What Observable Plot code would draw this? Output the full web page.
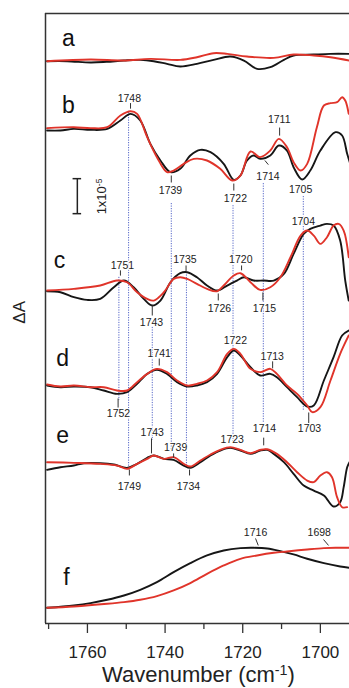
<!DOCTYPE html>
<html><head><meta charset="utf-8">
<script src="https://cdn.jsdelivr.net/npm/d3@7"></script>
<script src="https://cdn.jsdelivr.net/npm/@observablehq/plot@0.6"></script>
<style>body{margin:0;background:#fff}#chart svg{display:block}</style>
</head><body><div id="chart"></div>
<script>
// ---- data: [wavenumber (cm-1), dA (x1e-6, relative to panel baseline)] ----
const aBlack = [[1770.4,0],[1765.2,0],[1759.2,-0.38],[1755.1,-0.19],[1750.6,0.19],[1746.4,0.38],[1742.9,0],[1739.5,-0.76],[1736.1,-1.52],[1731.8,-0.76],[1727.5,0.38],[1723.2,1.33],[1719.7,0.19],[1716.3,-2.19],[1712.9,-1.71],[1709.4,0.38],[1706.9,1.62],[1701.7,1.9],[1697.4,2.1],[1692.5,2.1]];
const aRed = [[1770.4,0],[1759.2,0.48],[1750.6,0.19],[1743.8,0.67],[1736.1,0.38],[1731.8,1.14],[1727.5,2.29],[1724.0,2.1],[1718.9,1.33],[1712.0,0.95],[1706.9,1.9],[1701.7,1.62],[1697.4,1.14],[1692.5,0.19]];
const bBlack = [[1770.4,-0.57],[1766.95,-0.57],[1763.5,-0.1],[1759.2,-0.38],[1754.9,-0.1],[1751.5,2.29],[1748.9,4.19],[1746.4,2.29],[1743.8,-4.38],[1741.2,-9.14],[1738.6,-12.48],[1736.1,-11.52],[1733.5,-7.71],[1730.9,-6.1],[1728.3,-6.76],[1724.9,-10.1],[1722.3,-14.67],[1720.6,-13.43],[1718.9,-9.14],[1717.2,-7.71],[1715.5,-8.67],[1712.9,-7.71],[1710.7,-4.86],[1708.6,-6.29],[1706.9,-11.05],[1704.7,-14.57],[1702.6,-12.0],[1700.0,-6.29],[1696.1,-1.05],[1694.4,-2.0],[1693.1,-7.24],[1692.3,-10.1]];
const bRed = [[1770.4,0.1],[1763.5,0.38],[1759.2,0.1],[1754.9,0.38],[1751.5,3.71],[1748.9,4.95],[1747.2,4.19],[1744.6,-2.48],[1742.1,-8.19],[1739.5,-12.48],[1737.8,-12.0],[1735.2,-10.1],[1732.6,-8.67],[1729.2,-9.14],[1725.8,-11.52],[1722.7,-14.86],[1720.6,-13.43],[1718.0,-6.57],[1715.5,-8.19],[1712.9,-6.29],[1710.7,-2.95],[1708.6,-5.33],[1706.9,-9.62],[1705.1,-12.0],[1703.4,-10.1],[1700.9,0.38],[1699.1,6.57],[1697.4,7.24],[1695.7,7.52],[1694.4,8.95],[1693.6,8.0],[1692.7,4.19]];
const cBlack = [[1770.4,0],[1766.95,-0.29],[1763.5,-1.71],[1760.1,-2.48],[1756.7,-2.19],[1753.2,1.14],[1750.6,3.05],[1748.1,1.14],[1745.5,-2.19],[1743.3,-4.1],[1741.2,-2.67],[1738.6,2.57],[1736.1,5.14],[1734.3,5.43],[1731.8,4.0],[1729.2,1.62],[1726.6,0.19],[1724.0,1.62],[1721.5,3.05],[1719.7,4.0],[1717.2,3.05],[1714.6,3.05],[1712.0,3.05],[1709.4,4.95],[1706.9,10.67],[1704.3,16.38],[1702.6,17.81],[1700.0,18.76],[1698.3,19.24],[1696.6,18.76],[1694.9,14.48],[1693.6,3.05],[1692.7,-2.67]];
const cRed = [[1770.4,0.19],[1763.5,0.67],[1756.7,1.62],[1752.4,3.05],[1749.8,2.57],[1747.2,-0.29],[1744.6,-2.19],[1742.9,-2.67],[1740.3,-0.29],[1737.8,3.52],[1736.1,4.0],[1734.3,3.52],[1731.8,2.1],[1729.2,0.67],[1726.6,0],[1724.9,1.62],[1722.3,4.48],[1720.6,5.14],[1718.0,2.57],[1715.5,0.38],[1712.9,1.14],[1710.3,4.0],[1707.7,9.71],[1705.1,15.9],[1703.4,17.33],[1701.7,15.9],[1700.0,13.52],[1698.3,15.43],[1696.6,18.76],[1695.3,19.24],[1694.0,17.33],[1692.7,9.71]];
const dBlack = [[1770.4,0],[1766.95,-0.48],[1763.5,-0.29],[1759.2,-0.48],[1755.8,-1.43],[1752.4,-2.38],[1749.8,-1.9],[1747.2,0.48],[1744.6,3.33],[1742.1,4.48],[1739.5,3.33],[1736.9,0.95],[1734.3,-0.29],[1731.8,0],[1729.2,0.95],[1726.6,3.33],[1724.0,8.1],[1722.3,10.0],[1720.6,8.57],[1718.0,5.24],[1715.5,2.86],[1712.9,3.33],[1711.2,2.38],[1708.6,-0.48],[1706.0,-3.33],[1703.4,-6.0],[1701.7,-5.71],[1699.1,1.43],[1696.6,8.1],[1694.4,14.29],[1692.7,15.71]];
const dRed = [[1770.4,0.29],[1766.95,-0.29],[1763.5,0],[1759.2,-0.48],[1755.8,-0.48],[1752.4,-1.43],[1749.8,-1.43],[1747.2,0.95],[1744.6,3.33],[1742.1,4.76],[1739.5,3.81],[1736.9,1.43],[1734.3,0],[1731.8,0.48],[1729.2,1.43],[1726.6,3.81],[1724.0,9.05],[1722.3,10.48],[1720.6,9.05],[1718.0,4.76],[1715.5,3.81],[1712.9,4.76],[1711.2,3.33],[1708.6,0],[1706.0,-2.38],[1703.4,-5.71],[1702.1,-7.62],[1700.0,-6.19],[1697.4,1.43],[1694.9,9.05],[1692.7,14.29]];
const eBlack = [[1770.4,-2.19],[1766.95,-1.43],[1763.5,-0.95],[1760.9,-0.29],[1756.7,-0.29],[1753.2,-0.67],[1749.8,-1.62],[1747.2,-0.48],[1744.6,1.24],[1742.9,1.9],[1740.3,0.95],[1737.8,0.67],[1735.2,-0.95],[1733.5,-1.62],[1730.9,0],[1728.3,1.9],[1725.8,3.33],[1723.2,4.1],[1720.6,3.33],[1718.0,2.38],[1715.5,3.33],[1713.7,3.52],[1712.0,2.38],[1709.4,0],[1706.9,-3.33],[1704.3,-6.67],[1701.7,-8.1],[1699.1,-9.52],[1696.6,-12.67],[1694.9,-11.43],[1694.0,-7.14],[1693.1,-1.43],[1692.5,0]];
const eRed = [[1770.4,0],[1763.5,-0.19],[1756.7,-0.48],[1752.4,-0.95],[1749.8,-1.9],[1747.2,-0.48],[1744.6,0.95],[1742.9,1.9],[1740.3,0.95],[1737.8,1.43],[1735.2,-0.48],[1733.5,-1.24],[1730.9,0.48],[1728.3,2.19],[1725.8,3.52],[1723.2,4.29],[1720.6,3.52],[1718.0,2.57],[1715.5,3.52],[1713.7,3.71],[1711.2,2.38],[1708.6,0],[1706.0,-2.86],[1703.4,-5.24],[1701.7,-5.71],[1700.0,-3.81],[1698.3,-2.86],[1697.0,-4.29],[1695.7,-10.0],[1694.4,-12.86],[1693.1,-12.86]];
const fBlack = [[1770.4,0],[1763.5,0.67],[1759.2,1.33],[1754.9,2.29],[1750.6,3.52],[1746.4,5.14],[1742.1,7.33],[1737.8,10.19],[1733.5,12.76],[1729.2,14.95],[1724.9,16.38],[1720.6,17.05],[1717.2,17.14],[1713.7,16.95],[1710.3,16.19],[1706.9,15.24],[1703.4,14.0],[1699.1,12.76],[1694.9,11.81],[1692.5,11.43]];
const fRed = [[1770.4,0],[1763.5,0.38],[1754.9,1.14],[1750.6,1.62],[1746.4,2.29],[1742.1,3.33],[1737.8,4.95],[1733.5,7.05],[1729.2,9.71],[1724.9,12.1],[1720.6,14.0],[1716.3,14.95],[1712.0,15.71],[1708.6,16.1],[1703.4,16.67],[1699.1,17.05],[1695.7,17.14],[1692.5,17.14]];

const panelNames = ["a","b","c","d","e","f"];
const majorTicks = [1760,1740,1720,1700];
const minorTicks = [1770,1750,1730,1710];
// peak annotations: label text, [label x, label y], tick segment [x1,y1,x2,y2] (null = none)
const peakText = ["1748","1739","1722","1714","1711","1705","1704","1751","1735","1720","1743","1726","1715","1722","1741","1713","1752","1703","1743","1739","1723","1714","1749","1734","1716","1698"];
const peakAt = [[1749.2,150.1],[1738.6,123.6],[1721.9,121.3],[1713.5,127.6],[1710.6,144.0],[1705.1,123.9],[1704.4,114.7],[1751.0,102.3],[1734.9,104.0],[1720.5,103.9],[1743.5,86.1],[1726.0,89.9],[1714.4,90.0],[1721.9,80.9],[1741.5,77.1],[1712.4,76.3],[1752.0,60.0],[1702.8,55.7],[1743.3,54.6],[1737.3,50.3],[1722.7,52.6],[1714.4,55.7],[1749.2,39.1],[1734.0,39.1],[1716.7,26.0],[1700.3,26.0]];
const peakTick = [[1748.9,148.7,1748.9,147.1],[1738.4,128.0,1738.4,126.0],[1722.3,125.7,1722.3,123.7],[1714.3,132.3,1713.4,131.1],[1710.5,141.7,1710.5,139.4],null,null,[1751.5,100.9,1751.5,99.4],[1734.6,102.3,1734.6,100.6],[1720.3,102.3,1720.3,100.9],[1743.3,90.9,1743.3,88.0],[1726.3,94.3,1726.3,92.3],[1714.8,94.6,1714.8,92.3],null,[1741.5,75.7,1741.5,73.7],[1712.3,74.9,1712.3,72.9],[1752.1,64.3,1752.1,61.7],[1703.0,60.3,1703.0,56.9],[1743.5,52.9,1743.5,48.6],[1737.8,48.6,1737.8,47.4],null,[1714.6,53.1,1714.6,50.9],[1749.2,44.0,1749.2,42.3],[1733.7,44.0,1733.7,42.3],[1716.7,24.3,1716.0,22.3],[1699.2,24.0,1697.9,22.3]];
// dotted guide lines: wavenumber, from, to
const guideX = [1749.4,1751.9,1738.4,1743.3,1734.5,1722.5,1714.7,1704.4];
const guideFrom = [146.0,98.9,120.0,84.6,100.3,119.4,125.7,122.0];
const guideTo = [44.3,63.7,48.9,52.3,44.6,51.4,56.3,60.9];

// ---- layout ----
const RED = "#e0342a", BLACK = "#161616";
const XD = [1770.8, 1692.5], YTOP = 174.29;
const offsets = {a:160.66, b:141.43, c:94.94, d:68.0, e:46.09, f:4.49};
const letterPos = {a:[1764.9,167.0], b:[1764.9,148.1], c:[1767.2,103.8], d:[1766.4,75.8], e:[1766.4,53.8], f:[1765.4,12.97]};
const series = [["a","k",aBlack],["a","r",aRed],["b","k",bBlack],["b","r",bRed],["c","k",cBlack],["c","r",cRed],["d","k",dBlack],["d","r",dRed],["e","k",eBlack],["e","r",eRed],["f","k",fBlack],["f","r",fRed]];
const rows = series.flatMap(([p,c,arr]) => arr.map(([w,v]) => ({key:p+c, c, w, y: offsets[p] + v})));
const labels = peakText.map((t,i) => ({t, x: peakAt[i][0], y: peakAt[i][1]}));
const ticks = peakTick.filter(d => d).map(([x1,y1,x2,y2]) => ({x1,y1,x2,y2}));
const guides = guideX.map((x,i) => ({x, y1: guideFrom[i], y2: guideTo[i]}));
const letters = panelNames.map(p => ({t:p, x: letterPos[p][0], y: letterPos[p][1]}));
const FONT = "'Liberation Sans', Arial, Helvetica, sans-serif";

const chart = Plot.plot({
  width: 349, height: 688,
  marginTop: 13, marginBottom: 65, marginLeft: 45, marginRight: 0,
  style: {fontFamily: FONT, background: "#fff"},
  x: {domain: XD},
  y: {domain: [0, YTOP], axis: null},
  marks: [
    Plot.ruleX(guides, {x: "x", y1: "y1", y2: "y2", stroke: "#5566c8", strokeWidth: 1, strokeDasharray: "1.2,1.3"}),
    Plot.line(rows.filter(d => d.c === "k"), {x: "w", y: "y", z: "key", stroke: BLACK, strokeWidth: 1.9, curve: "catmull-rom", clip: true}),
    Plot.line(rows.filter(d => d.c === "r"), {x: "w", y: "y", z: "key", stroke: RED, strokeWidth: 1.9, curve: "catmull-rom", clip: true}),
    Plot.link(ticks, {x1: "x1", y1: "y1", x2: "x2", y2: "y2", stroke: "#333", strokeWidth: 1}),
    Plot.text(labels, {x: "x", y: "y", text: "t", fontSize: 10.5, fill: "#222", stroke: "#fff", strokeWidth: 2}),
    Plot.text(letters, {x: "x", y: "y", text: "t", fontSize: 23, fill: "#111"}),
    // scale bar 1x10^-5 (10 units)
    Plot.ruleX([1762.6], {y1: 117.1, y2: 127.1, stroke: "#222", strokeWidth: 1.5}),
    Plot.ruleY([117.1, 127.1], {x1: 1763.7, x2: 1761.5, stroke: "#222", strokeWidth: 1.5}),
    Plot.text(["1x10-5"], {x: 1756.4, y: 122.0, rotate: -90, fontSize: 13, fill: "#222", className: "scalelab"}),
    Plot.text(["ΔA"], {x: 1777.6, y: 88.9, rotate: -90, fontSize: 17, fill: "#222"}),
    Plot.text(["Wavenumber (cm-1)"], {x: 1731.4, y: -14.6, fontSize: 22, fill: "#222", className: "xtitle"}),
    // frame (left, top, bottom)
    Plot.ruleX([XD[0]], {y1: 0, y2: YTOP, stroke: "#333", strokeWidth: 1.5}),
    Plot.ruleY([0, YTOP], {stroke: "#333", strokeWidth: 1.5}),
    Plot.axisX({ticks: majorTicks, tickSize: 10, tickPadding: 12, tickFormat: d => String(d), fontSize: 17, label: null, stroke: "#333", strokeWidth: 1.3, fill: "#222"}),
    Plot.axisX({ticks: minorTicks, tickSize: 6, tickFormat: () => "", label: null, stroke: "#333", strokeWidth: 1.3})
  ]
});
document.getElementById("chart").append(chart);

// superscripts as real text
function sup(cls, base, s, tail) {
  const g = chart.querySelector("g." + cls + " text") || Array.from(chart.querySelectorAll("text")).find(t => t.textContent.startsWith(base));
  if (!g) return;
  g.textContent = "";
  const ns = "http://www.w3.org/2000/svg";
  const a = document.createElementNS(ns, "tspan"); a.textContent = base; g.append(a);
  const b = document.createElementNS(ns, "tspan"); b.textContent = s; b.setAttribute("dy", "-0.45em"); b.setAttribute("font-size", "0.65em"); g.append(b);
  if (tail) { const c = document.createElementNS(ns, "tspan"); c.textContent = tail; c.setAttribute("dy", "0.3em"); g.append(c); }
}
sup("xtitle", "Wavenumber (cm", "-1", ")");
sup("scalelab", "1x10", "-5", null);
</script>
</body></html>
